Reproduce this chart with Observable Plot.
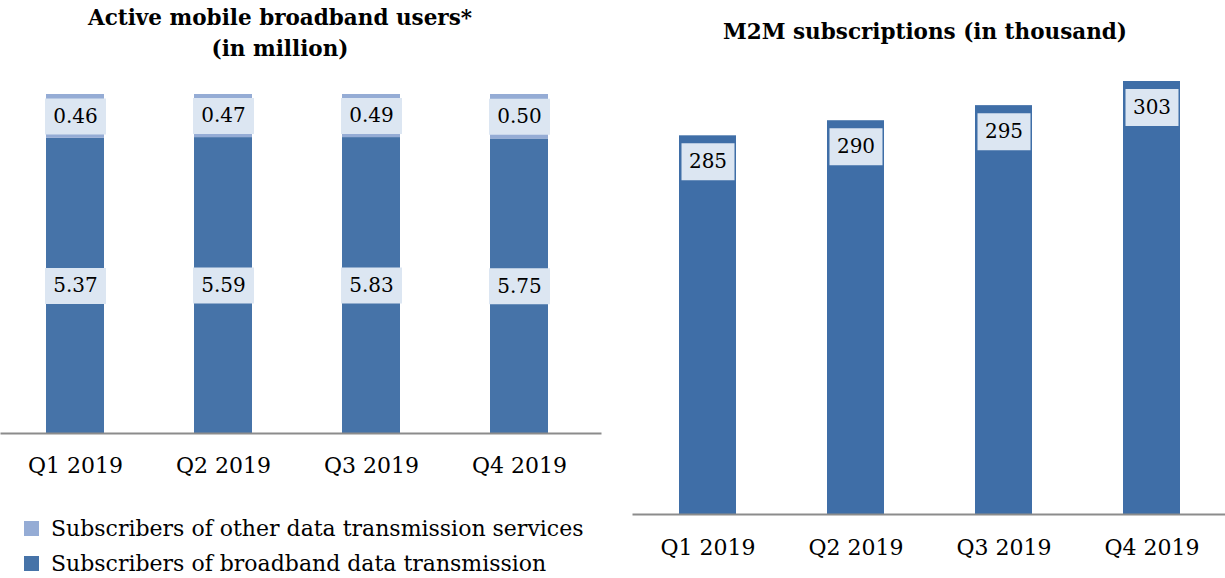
<!DOCTYPE html>
<html>
<head>
<meta charset="utf-8">
<script src="https://cdn.jsdelivr.net/npm/d3@7"></script>
<script src="https://cdn.jsdelivr.net/npm/@observablehq/plot@0.6"></script>
<style>
  html, body { margin: 0; padding: 0; background: #fff; }
  body { font-family: "DejaVu Serif", serif; color: #000; }
  #wrap { position: relative; width: 1225px; height: 578px; overflow: hidden; }
  .title { position: absolute; font-weight: bold; text-align: center; font-size: 21.5px; line-height: 31px; }
  #t1 { left: 0; top: 2px; width: 560px; }
  #t2 { left: 620px; top: 16px; width: 610px; }
  #p1 { position: absolute; left: 0; top: 70px; }
  #p2 { position: absolute; left: 620px; top: 55px; }
  #legend { position: absolute; left: 24px; top: 511px; font-size: 22px; }
  .row { display: flex; align-items: center; height: 35px; white-space: nowrap; }
  .sw { width: 15px; height: 15px; margin-right: 12px; flex: none; }
</style>
</head>
<body>
<div id="wrap">
  <div class="title" id="t1">Active mobile broadband users*<br>(in million)</div>
  <div class="title" id="t2">M2M subscriptions (in thousand)</div>
  <div id="p1"></div>
  <div id="p2"></div>
  <div id="legend"></div>
</div>
<script>
// ---- data ----
const quarters = ["Q1 2019", "Q2 2019", "Q3 2019", "Q4 2019"];
const broadbandUsers = [5.37, 5.59, 5.83, 5.75];
const otherDataUsers = [0.46, 0.47, 0.49, 0.50];
const m2mSubscriptions = [285, 290, 295, 303];
const seriesNames = ["Subscribers of broadband data transmission", "Subscribers of other data transmission services"];
const legendOrder = ["Subscribers of other data transmission services", "Subscribers of broadband data transmission"];

// ---- styles ----
const colors = { dark: "#4673a8", light: "#95acd5", box: "#dce6f2", m2m: "#3f6ea7", axis: "#8c8c8c" };
const font = "'DejaVu Serif', serif";
function boxSymbol(w, h) { return { draw(ctx) { ctx.rect(-w / 2, -h / 2, w, h); } }; }

// ---- left chart (share of stacked bar, axis starting above zero) ----
const leftYMin = 0.39;
const leftRows = [
  ...quarters.map((q, i) => ({ q, series: seriesNames[0], value: broadbandUsers[i] })),
  ...quarters.map((q, i) => ({ q, series: seriesNames[1], value: otherDataUsers[i] }))
];
const leftLabels = quarters.flatMap((q, i) => {
  const f = broadbandUsers[i] / (broadbandUsers[i] + otherDataUsers[i]);
  return [
    { q, y: (leftYMin + f) / 2, text: broadbandUsers[i].toFixed(2) },
    { q, y: (f + 1) / 2, text: otherDataUsers[i].toFixed(2) }
  ];
});

const left = Plot.plot({
  width: 600, height: 415,
  marginTop: 24, marginBottom: 52, marginLeft: 1, marginRight: 0, insetRight: 7,
  style: { fontFamily: font, color: "#000", background: "#fff", overflow: "visible" },
  x: { domain: quarters, paddingInner: 0.608, paddingOuter: 0.304 },
  y: { domain: [leftYMin, 1], axis: null },
  color: { domain: seriesNames, range: [colors.dark, colors.light] },
  marks: [
    Plot.barY(leftRows, { x: "q", y: "value", fill: "series", offset: "normalize", clip: true }),
    Plot.frame({ anchor: "bottom", stroke: colors.axis, strokeWidth: 2 }),
    Plot.dot(leftLabels, { x: "q", y: "y", symbol: boxSymbol(61, 36), r: 10, fill: colors.box }),
    Plot.text(leftLabels, { x: "q", y: "y", text: "text", fontSize: 20, fill: "#000" }),
    Plot.axisX({ tickSize: 0, tickPadding: 24, fontSize: 22, label: null })
  ]
});
document.getElementById("p1").appendChild(left);

// ---- right chart ----
const m2mRows = quarters.map((q, i) => ({ q, value: m2mSubscriptions[i] }));
const right = Plot.plot({
  width: 605, height: 523,
  marginTop: 26, marginBottom: 64, marginLeft: 13, marginRight: 0,
  style: { fontFamily: font, color: "#000", background: "#fff", overflow: "visible" },
  x: { domain: quarters, paddingInner: 0.615, paddingOuter: 0.3075 },
  y: { domain: [159.5, 303], axis: null },
  marks: [
    Plot.barY(m2mRows, { x: "q", y: "value", fill: colors.m2m, clip: true }),
    Plot.frame({ anchor: "bottom", stroke: colors.axis, strokeWidth: 2 }),
    Plot.dot(m2mRows, { x: "q", y: "value", dy: 26, symbol: boxSymbol(53, 37), r: 10, fill: colors.box }),
    Plot.text(m2mRows, { x: "q", y: "value", dy: 26, text: d => String(d.value), fontSize: 20, fill: "#000" }),
    Plot.axisX({ tickSize: 0, tickPadding: 25, fontSize: 22, label: null })
  ]
});
document.getElementById("p2").appendChild(right);

// ---- legend ----
const legendColor = { [seriesNames[0]]: colors.dark, [seriesNames[1]]: colors.light };
const legend = document.getElementById("legend");
for (const name of legendOrder) {
  const row = document.createElement("div");
  row.className = "row";
  const sw = document.createElement("span");
  sw.className = "sw";
  sw.style.background = legendColor[name];
  const label = document.createElement("span");
  label.textContent = name;
  row.appendChild(sw);
  row.appendChild(label);
  legend.appendChild(row);
}
</script>
</body>
</html>
